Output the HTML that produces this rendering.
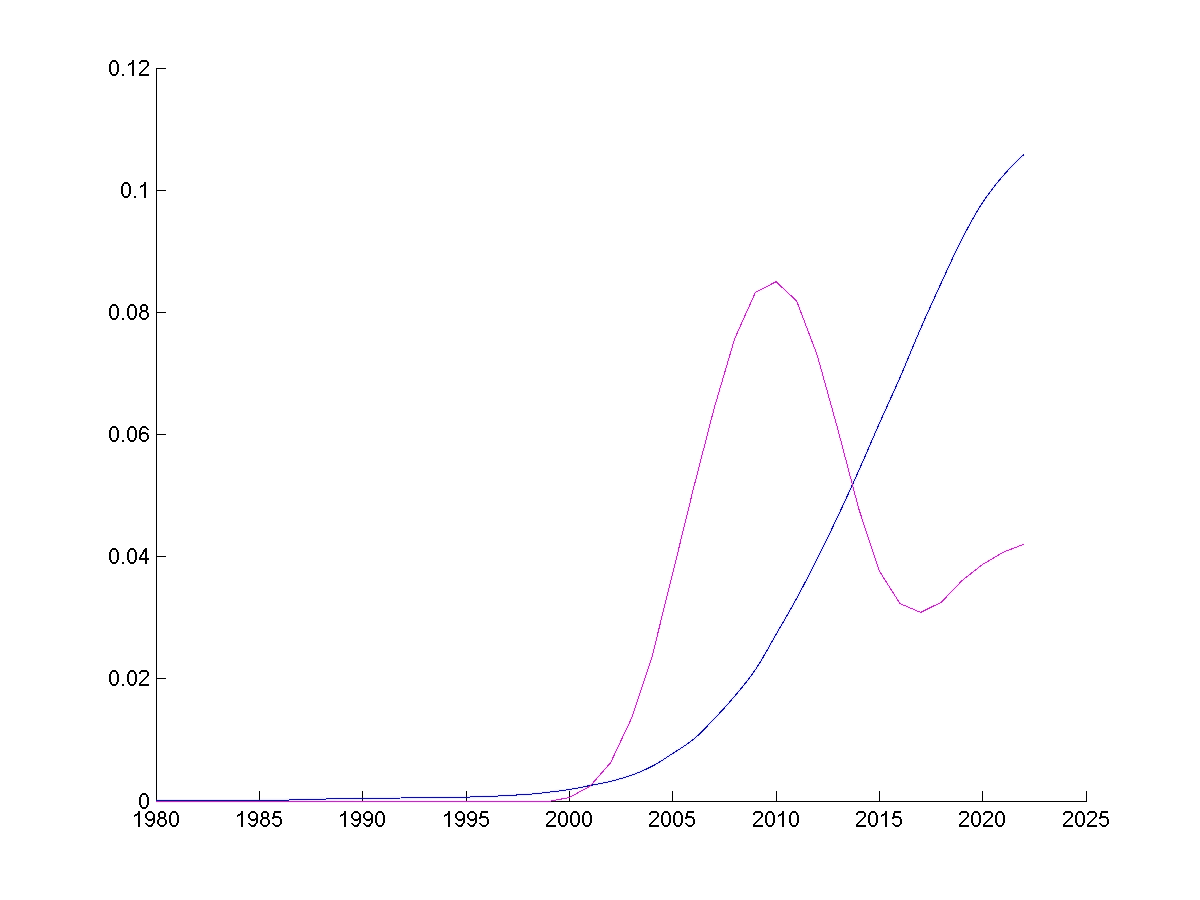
<!DOCTYPE html>
<html><head><meta charset="utf-8"><style>
html,body{margin:0;padding:0;background:#fff;}
#c{position:relative;width:1200px;height:900px;overflow:hidden;background:#fff;font-family:"Liberation Sans",sans-serif;}
svg{position:absolute;left:0;top:0;}
.tl{position:absolute;height:24px;line-height:24px;font-size:21px;color:transparent;white-space:nowrap;}
</style></head><body><div id="c">
<svg width="1200" height="900" viewBox="0 0 1200 900">
<path d="M156.5,68 V802 M156,801.5 H1087 M156,801.5 H166 M156,678.5 H166 M156,556.5 H166 M156,434.5 H166 M156,312.5 H166 M156,190.5 H166 M156,68.5 H166 M156.5,791 V801 M259.5,791 V801 M362.5,791 V801 M466.5,791 V801 M569.5,791 V801 M672.5,791 V801 M776.5,791 V801 M879.5,791 V801 M982.5,791 V801 M1086.5,791 V801" stroke="#000" stroke-width="1" fill="none" shape-rendering="crispEdges"/>
<path fill="#000" shape-rendering="crispEdges" d="M142,793h4v1h-4zM142,808h4v1h-4zM141,794h6v1h-6zM141,807h6v1h-6zM140,795h2v2h-2zM140,805h2v2h-2zM146,795h2v2h-2zM146,805h2v2h-2zM139,797h2v8h-2zM147,797h2v8h-2zM112,670h4v1h-4zM112,685h4v1h-4zM111,671h6v1h-6zM111,684h6v1h-6zM110,672h2v2h-2zM110,682h2v2h-2zM116,672h2v2h-2zM116,682h2v2h-2zM109,674h2v8h-2zM117,674h2v8h-2zM122,684h2v2h-2zM130,670h4v1h-4zM130,685h4v1h-4zM129,671h6v1h-6zM129,684h6v1h-6zM128,672h2v2h-2zM128,682h2v2h-2zM134,672h2v2h-2zM134,682h2v2h-2zM127,674h2v8h-2zM135,674h2v8h-2zM141,670h6v1h-6zM140,671h8v1h-8zM139,672h2v2h-2zM139,683h2v1h-2zM147,672h2v4h-2zM146,676h2v1h-2zM145,677h2v1h-2zM144,678h2v1h-2zM143,679h2v1h-2zM142,680h2v1h-2zM141,681h2v1h-2zM140,682h2v1h-2zM139,684h10v2h-10zM112,548h4v1h-4zM112,563h4v1h-4zM111,549h6v1h-6zM111,562h6v1h-6zM110,550h2v2h-2zM110,560h2v2h-2zM116,550h2v2h-2zM116,560h2v2h-2zM109,552h2v8h-2zM117,552h2v8h-2zM122,562h2v2h-2zM130,548h4v1h-4zM130,563h4v1h-4zM129,549h6v1h-6zM129,562h6v1h-6zM128,550h2v2h-2zM128,560h2v2h-2zM134,550h2v2h-2zM134,560h2v2h-2zM127,552h2v8h-2zM135,552h2v8h-2zM145,548h2v1h-2zM145,552h2v6h-2zM145,560h2v4h-2zM144,549h3v1h-3zM143,550h4v2h-4zM142,552h2v2h-2zM141,554h2v1h-2zM140,555h2v2h-2zM139,557h2v1h-2zM139,558h10v2h-10zM112,426h4v1h-4zM112,441h4v1h-4zM111,427h6v1h-6zM111,440h6v1h-6zM110,428h2v2h-2zM110,438h2v2h-2zM116,428h2v2h-2zM116,438h2v2h-2zM109,430h2v8h-2zM117,430h2v8h-2zM122,440h2v2h-2zM130,426h4v1h-4zM130,441h4v1h-4zM129,427h6v1h-6zM129,440h6v1h-6zM128,428h2v2h-2zM128,438h2v2h-2zM134,428h2v2h-2zM134,438h2v2h-2zM127,430h2v8h-2zM135,430h2v8h-2zM142,426h4v1h-4zM142,432h4v1h-4zM142,441h4v1h-4zM141,427h6v1h-6zM141,440h6v1h-6zM140,428h2v2h-2zM140,439h2v1h-2zM146,428h2v1h-2zM146,434h2v1h-2zM146,439h2v1h-2zM147,429h2v1h-2zM147,435h2v4h-2zM139,430h2v3h-2zM139,435h2v4h-2zM139,433h9v1h-9zM139,434h3v1h-3zM112,304h4v1h-4zM112,319h4v1h-4zM111,305h6v1h-6zM111,318h6v1h-6zM110,306h2v2h-2zM110,316h2v2h-2zM116,306h2v2h-2zM116,316h2v2h-2zM109,308h2v8h-2zM117,308h2v8h-2zM122,318h2v2h-2zM130,304h4v1h-4zM130,319h4v1h-4zM129,305h6v1h-6zM129,318h6v1h-6zM128,306h2v2h-2zM128,316h2v2h-2zM134,306h2v2h-2zM134,316h2v2h-2zM127,308h2v8h-2zM135,308h2v8h-2zM142,304h4v1h-4zM142,319h4v1h-4zM141,305h6v1h-6zM141,310h6v2h-6zM141,318h6v1h-6zM140,306h2v4h-2zM140,312h2v1h-2zM140,317h2v1h-2zM146,306h2v4h-2zM146,312h2v1h-2zM146,317h2v1h-2zM139,313h2v4h-2zM147,313h2v4h-2zM124,182h4v1h-4zM124,197h4v1h-4zM123,183h6v1h-6zM123,196h6v1h-6zM122,184h2v2h-2zM122,194h2v2h-2zM128,184h2v2h-2zM128,194h2v2h-2zM121,186h2v8h-2zM129,186h2v8h-2zM134,196h2v2h-2zM144,182h2v2h-2zM144,186h2v12h-2zM143,184h3v1h-3zM141,185h5v1h-5zM140,186h3v1h-3zM140,187h1v1h-1zM112,60h4v1h-4zM112,75h4v1h-4zM111,61h6v1h-6zM111,74h6v1h-6zM110,62h2v2h-2zM110,72h2v2h-2zM116,62h2v2h-2zM116,72h2v2h-2zM109,64h2v8h-2zM117,64h2v8h-2zM122,74h2v2h-2zM132,60h2v2h-2zM132,64h2v12h-2zM131,62h3v1h-3zM129,63h5v1h-5zM128,64h3v1h-3zM128,65h1v1h-1zM141,60h6v1h-6zM140,61h8v1h-8zM139,62h2v2h-2zM139,73h2v1h-2zM147,62h2v4h-2zM146,66h2v1h-2zM145,67h2v1h-2zM144,68h2v1h-2zM143,69h2v1h-2zM142,70h2v1h-2zM141,71h2v1h-2zM140,72h2v1h-2zM139,74h10v2h-10zM138,811h2v2h-2zM138,815h2v12h-2zM137,813h3v1h-3zM135,814h5v1h-5zM134,815h3v1h-3zM134,816h1v1h-1zM148,811h4v1h-4zM148,820h4v1h-4zM148,826h4v1h-4zM147,812h6v1h-6zM147,825h6v1h-6zM146,813h2v1h-2zM146,818h2v1h-2zM146,824h2v1h-2zM152,813h2v1h-2zM152,823h2v1h-2zM145,814h2v4h-2zM145,823h2v1h-2zM153,814h2v4h-2zM153,820h2v3h-2zM152,818h3v1h-3zM147,819h8v1h-8zM151,824h2v1h-2zM160,811h4v1h-4zM160,826h4v1h-4zM159,812h6v1h-6zM159,817h6v2h-6zM159,825h6v1h-6zM158,813h2v4h-2zM158,819h2v1h-2zM158,824h2v1h-2zM164,813h2v4h-2zM164,819h2v1h-2zM164,824h2v1h-2zM157,820h2v4h-2zM165,820h2v4h-2zM172,811h4v1h-4zM172,826h4v1h-4zM171,812h6v1h-6zM171,825h6v1h-6zM170,813h2v2h-2zM170,823h2v2h-2zM176,813h2v2h-2zM176,823h2v2h-2zM169,815h2v8h-2zM177,815h2v8h-2zM241,811h2v2h-2zM241,815h2v12h-2zM240,813h3v1h-3zM238,814h5v1h-5zM237,815h3v1h-3zM237,816h1v1h-1zM251,811h4v1h-4zM251,820h4v1h-4zM251,826h4v1h-4zM250,812h6v1h-6zM250,825h6v1h-6zM249,813h2v1h-2zM249,818h2v1h-2zM249,824h2v1h-2zM255,813h2v1h-2zM255,823h2v1h-2zM248,814h2v4h-2zM248,823h2v1h-2zM256,814h2v4h-2zM256,820h2v3h-2zM255,818h3v1h-3zM250,819h8v1h-8zM254,824h2v1h-2zM263,811h4v1h-4zM263,826h4v1h-4zM262,812h6v1h-6zM262,817h6v2h-6zM262,825h6v1h-6zM261,813h2v4h-2zM261,819h2v1h-2zM261,824h2v1h-2zM267,813h2v4h-2zM267,819h2v1h-2zM267,824h2v1h-2zM260,820h2v4h-2zM268,820h2v4h-2zM274,811h7v2h-7zM273,813h2v3h-2zM273,824h2v1h-2zM273,816h6v1h-6zM272,817h9v1h-9zM272,818h2v1h-2zM272,823h2v1h-2zM279,818h2v1h-2zM279,824h2v1h-2zM280,819h2v5h-2zM274,825h6v1h-6zM275,826h4v1h-4zM344,811h2v2h-2zM344,815h2v12h-2zM343,813h3v1h-3zM341,814h5v1h-5zM340,815h3v1h-3zM340,816h1v1h-1zM354,811h4v1h-4zM354,820h4v1h-4zM354,826h4v1h-4zM353,812h6v1h-6zM353,825h6v1h-6zM352,813h2v1h-2zM352,818h2v1h-2zM352,824h2v1h-2zM358,813h2v1h-2zM358,823h2v1h-2zM351,814h2v4h-2zM351,823h2v1h-2zM359,814h2v4h-2zM359,820h2v3h-2zM358,818h3v1h-3zM353,819h8v1h-8zM357,824h2v1h-2zM366,811h4v1h-4zM366,820h4v1h-4zM366,826h4v1h-4zM365,812h6v1h-6zM365,825h6v1h-6zM364,813h2v1h-2zM364,818h2v1h-2zM364,824h2v1h-2zM370,813h2v1h-2zM370,823h2v1h-2zM363,814h2v4h-2zM363,823h2v1h-2zM371,814h2v4h-2zM371,820h2v3h-2zM370,818h3v1h-3zM365,819h8v1h-8zM369,824h2v1h-2zM378,811h4v1h-4zM378,826h4v1h-4zM377,812h6v1h-6zM377,825h6v1h-6zM376,813h2v2h-2zM376,823h2v2h-2zM382,813h2v2h-2zM382,823h2v2h-2zM375,815h2v8h-2zM383,815h2v8h-2zM448,811h2v2h-2zM448,815h2v12h-2zM447,813h3v1h-3zM445,814h5v1h-5zM444,815h3v1h-3zM444,816h1v1h-1zM458,811h4v1h-4zM458,820h4v1h-4zM458,826h4v1h-4zM457,812h6v1h-6zM457,825h6v1h-6zM456,813h2v1h-2zM456,818h2v1h-2zM456,824h2v1h-2zM462,813h2v1h-2zM462,823h2v1h-2zM455,814h2v4h-2zM455,823h2v1h-2zM463,814h2v4h-2zM463,820h2v3h-2zM462,818h3v1h-3zM457,819h8v1h-8zM461,824h2v1h-2zM470,811h4v1h-4zM470,820h4v1h-4zM470,826h4v1h-4zM469,812h6v1h-6zM469,825h6v1h-6zM468,813h2v1h-2zM468,818h2v1h-2zM468,824h2v1h-2zM474,813h2v1h-2zM474,823h2v1h-2zM467,814h2v4h-2zM467,823h2v1h-2zM475,814h2v4h-2zM475,820h2v3h-2zM474,818h3v1h-3zM469,819h8v1h-8zM473,824h2v1h-2zM481,811h7v2h-7zM480,813h2v3h-2zM480,824h2v1h-2zM480,816h6v1h-6zM479,817h9v1h-9zM479,818h2v1h-2zM479,823h2v1h-2zM486,818h2v1h-2zM486,824h2v1h-2zM487,819h2v5h-2zM481,825h6v1h-6zM482,826h4v1h-4zM548,811h6v1h-6zM547,812h8v1h-8zM546,813h2v2h-2zM546,824h2v1h-2zM554,813h2v4h-2zM553,817h2v1h-2zM552,818h2v1h-2zM551,819h2v1h-2zM550,820h2v1h-2zM549,821h2v1h-2zM548,822h2v1h-2zM547,823h2v1h-2zM546,825h10v2h-10zM561,811h4v1h-4zM561,826h4v1h-4zM560,812h6v1h-6zM560,825h6v1h-6zM559,813h2v2h-2zM559,823h2v2h-2zM565,813h2v2h-2zM565,823h2v2h-2zM558,815h2v8h-2zM566,815h2v8h-2zM573,811h4v1h-4zM573,826h4v1h-4zM572,812h6v1h-6zM572,825h6v1h-6zM571,813h2v2h-2zM571,823h2v2h-2zM577,813h2v2h-2zM577,823h2v2h-2zM570,815h2v8h-2zM578,815h2v8h-2zM585,811h4v1h-4zM585,826h4v1h-4zM584,812h6v1h-6zM584,825h6v1h-6zM583,813h2v2h-2zM583,823h2v2h-2zM589,813h2v2h-2zM589,823h2v2h-2zM582,815h2v8h-2zM590,815h2v8h-2zM651,811h6v1h-6zM650,812h8v1h-8zM649,813h2v2h-2zM649,824h2v1h-2zM657,813h2v4h-2zM656,817h2v1h-2zM655,818h2v1h-2zM654,819h2v1h-2zM653,820h2v1h-2zM652,821h2v1h-2zM651,822h2v1h-2zM650,823h2v1h-2zM649,825h10v2h-10zM664,811h4v1h-4zM664,826h4v1h-4zM663,812h6v1h-6zM663,825h6v1h-6zM662,813h2v2h-2zM662,823h2v2h-2zM668,813h2v2h-2zM668,823h2v2h-2zM661,815h2v8h-2zM669,815h2v8h-2zM676,811h4v1h-4zM676,826h4v1h-4zM675,812h6v1h-6zM675,825h6v1h-6zM674,813h2v2h-2zM674,823h2v2h-2zM680,813h2v2h-2zM680,823h2v2h-2zM673,815h2v8h-2zM681,815h2v8h-2zM687,811h7v2h-7zM686,813h2v3h-2zM686,824h2v1h-2zM686,816h6v1h-6zM685,817h9v1h-9zM685,818h2v1h-2zM685,823h2v1h-2zM692,818h2v1h-2zM692,824h2v1h-2zM693,819h2v5h-2zM687,825h6v1h-6zM688,826h4v1h-4zM755,811h6v1h-6zM754,812h8v1h-8zM753,813h2v2h-2zM753,824h2v1h-2zM761,813h2v4h-2zM760,817h2v1h-2zM759,818h2v1h-2zM758,819h2v1h-2zM757,820h2v1h-2zM756,821h2v1h-2zM755,822h2v1h-2zM754,823h2v1h-2zM753,825h10v2h-10zM768,811h4v1h-4zM768,826h4v1h-4zM767,812h6v1h-6zM767,825h6v1h-6zM766,813h2v2h-2zM766,823h2v2h-2zM772,813h2v2h-2zM772,823h2v2h-2zM765,815h2v8h-2zM773,815h2v8h-2zM782,811h2v2h-2zM782,815h2v12h-2zM781,813h3v1h-3zM779,814h5v1h-5zM778,815h3v1h-3zM778,816h1v1h-1zM792,811h4v1h-4zM792,826h4v1h-4zM791,812h6v1h-6zM791,825h6v1h-6zM790,813h2v2h-2zM790,823h2v2h-2zM796,813h2v2h-2zM796,823h2v2h-2zM789,815h2v8h-2zM797,815h2v8h-2zM858,811h6v1h-6zM857,812h8v1h-8zM856,813h2v2h-2zM856,824h2v1h-2zM864,813h2v4h-2zM863,817h2v1h-2zM862,818h2v1h-2zM861,819h2v1h-2zM860,820h2v1h-2zM859,821h2v1h-2zM858,822h2v1h-2zM857,823h2v1h-2zM856,825h10v2h-10zM871,811h4v1h-4zM871,826h4v1h-4zM870,812h6v1h-6zM870,825h6v1h-6zM869,813h2v2h-2zM869,823h2v2h-2zM875,813h2v2h-2zM875,823h2v2h-2zM868,815h2v8h-2zM876,815h2v8h-2zM885,811h2v2h-2zM885,815h2v12h-2zM884,813h3v1h-3zM882,814h5v1h-5zM881,815h3v1h-3zM881,816h1v1h-1zM894,811h7v2h-7zM893,813h2v3h-2zM893,824h2v1h-2zM893,816h6v1h-6zM892,817h9v1h-9zM892,818h2v1h-2zM892,823h2v1h-2zM899,818h2v1h-2zM899,824h2v1h-2zM900,819h2v5h-2zM894,825h6v1h-6zM895,826h4v1h-4zM961,811h6v1h-6zM960,812h8v1h-8zM959,813h2v2h-2zM959,824h2v1h-2zM967,813h2v4h-2zM966,817h2v1h-2zM965,818h2v1h-2zM964,819h2v1h-2zM963,820h2v1h-2zM962,821h2v1h-2zM961,822h2v1h-2zM960,823h2v1h-2zM959,825h10v2h-10zM974,811h4v1h-4zM974,826h4v1h-4zM973,812h6v1h-6zM973,825h6v1h-6zM972,813h2v2h-2zM972,823h2v2h-2zM978,813h2v2h-2zM978,823h2v2h-2zM971,815h2v8h-2zM979,815h2v8h-2zM985,811h6v1h-6zM984,812h8v1h-8zM983,813h2v2h-2zM983,824h2v1h-2zM991,813h2v4h-2zM990,817h2v1h-2zM989,818h2v1h-2zM988,819h2v1h-2zM987,820h2v1h-2zM986,821h2v1h-2zM985,822h2v1h-2zM984,823h2v1h-2zM983,825h10v2h-10zM998,811h4v1h-4zM998,826h4v1h-4zM997,812h6v1h-6zM997,825h6v1h-6zM996,813h2v2h-2zM996,823h2v2h-2zM1002,813h2v2h-2zM1002,823h2v2h-2zM995,815h2v8h-2zM1003,815h2v8h-2zM1065,811h6v1h-6zM1064,812h8v1h-8zM1063,813h2v2h-2zM1063,824h2v1h-2zM1071,813h2v4h-2zM1070,817h2v1h-2zM1069,818h2v1h-2zM1068,819h2v1h-2zM1067,820h2v1h-2zM1066,821h2v1h-2zM1065,822h2v1h-2zM1064,823h2v1h-2zM1063,825h10v2h-10zM1078,811h4v1h-4zM1078,826h4v1h-4zM1077,812h6v1h-6zM1077,825h6v1h-6zM1076,813h2v2h-2zM1076,823h2v2h-2zM1082,813h2v2h-2zM1082,823h2v2h-2zM1075,815h2v8h-2zM1083,815h2v8h-2zM1089,811h6v1h-6zM1088,812h8v1h-8zM1087,813h2v2h-2zM1087,824h2v1h-2zM1095,813h2v4h-2zM1094,817h2v1h-2zM1093,818h2v1h-2zM1092,819h2v1h-2zM1091,820h2v1h-2zM1090,821h2v1h-2zM1089,822h2v1h-2zM1088,823h2v1h-2zM1087,825h10v2h-10zM1101,811h7v2h-7zM1100,813h2v3h-2zM1100,824h2v1h-2zM1100,816h6v1h-6zM1099,817h9v1h-9zM1099,818h2v1h-2zM1099,823h2v1h-2zM1106,818h2v1h-2zM1106,824h2v1h-2zM1107,819h2v5h-2zM1101,825h6v1h-6zM1102,826h4v1h-4z"/>
<polyline points="156.00,800.50 158.58,800.50 161.17,800.50 163.75,800.50 166.33,800.50 168.92,800.50 171.50,800.50 174.08,800.50 176.67,800.50 179.25,800.50 181.83,800.49 184.42,800.49 187.00,800.49 189.58,800.49 192.17,800.49 194.75,800.49 197.33,800.48 199.92,800.48 202.50,800.48 205.08,800.48 207.67,800.47 210.25,800.47 212.83,800.47 215.42,800.47 218.00,800.46 220.58,800.46 223.17,800.45 225.75,800.45 228.33,800.44 230.92,800.44 233.50,800.44 236.08,800.43 238.67,800.42 241.25,800.42 243.83,800.41 246.42,800.41 249.00,800.40 251.58,800.39 254.17,800.39 256.75,800.38 259.33,800.37 261.92,800.36 264.50,800.36 267.08,800.35 269.67,800.34 272.25,800.33 274.83,800.32 277.42,800.31 280.00,800.30 282.58,800.26 285.17,800.19 287.75,800.08 290.33,799.95 292.92,799.82 295.50,799.69 298.08,799.58 300.67,799.50 303.25,799.44 305.83,799.38 308.42,799.32 311.00,799.27 313.58,799.22 316.17,799.17 318.75,799.13 321.33,799.08 323.92,799.04 326.50,799.00 329.08,798.96 331.67,798.92 334.25,798.88 336.83,798.85 339.42,798.81 342.00,798.78 344.58,798.74 347.17,798.71 349.75,798.68 352.33,798.64 354.92,798.61 357.50,798.57 360.08,798.54 362.67,798.50 365.25,798.46 367.83,798.43 370.42,798.39 373.00,798.36 375.58,798.32 378.17,798.29 380.75,798.26 383.33,798.22 385.92,798.19 388.50,798.16 391.08,798.13 393.67,798.10 396.25,798.06 398.83,798.03 401.42,798.00 404.00,797.97 406.58,797.94 409.17,797.90 411.75,797.87 414.33,797.84 416.92,797.80 419.50,797.77 422.08,797.74 424.67,797.70 427.25,797.67 429.83,797.63 432.42,797.60 435.00,797.57 437.58,797.53 440.17,797.50 442.75,797.47 445.33,797.43 447.92,797.40 450.50,797.36 453.08,797.32 455.67,797.28 458.25,797.24 460.83,797.20 463.42,797.15 466.00,797.10 468.58,797.04 471.17,796.98 473.75,796.92 476.33,796.84 478.92,796.76 481.50,796.68 484.08,796.59 486.67,796.50 489.25,796.40 491.83,796.29 494.42,796.17 497.00,796.04 499.58,795.91 502.17,795.77 504.75,795.64 507.33,795.50 509.92,795.36 512.50,795.23 515.08,795.09 517.67,794.95 520.25,794.81 522.83,794.65 525.42,794.48 528.00,794.30 530.58,794.10 533.17,793.87 535.75,793.62 538.33,793.35 540.92,793.08 543.50,792.79 546.08,792.50 548.67,792.20 551.25,791.90 553.83,791.60 556.42,791.28 559.00,790.96 561.58,790.62 564.17,790.26 566.75,789.89 569.33,789.50 571.92,789.08 574.50,788.61 577.08,788.12 579.67,787.61 582.25,787.08 584.83,786.55 587.42,786.02 590.00,785.50 592.58,785.00 595.17,784.50 597.75,784.01 600.33,783.51 602.92,783.00 605.50,782.46 608.08,781.90 610.67,781.30 613.25,780.66 615.83,779.99 618.42,779.28 621.00,778.53 623.58,777.75 626.17,776.94 628.75,776.09 631.33,775.20 633.92,774.27 636.50,773.28 639.08,772.25 641.67,771.16 644.25,770.02 646.83,768.83 649.42,767.59 652.00,766.30 654.58,764.93 657.17,763.45 659.75,761.89 662.33,760.26 664.92,758.59 667.50,756.89 670.08,755.19 672.67,753.50 675.25,751.84 677.83,750.19 680.42,748.54 683.00,746.86 685.58,745.12 688.17,743.32 690.75,741.42 693.33,739.40 695.92,737.22 698.50,734.88 701.08,732.40 703.67,729.81 706.25,727.14 708.83,724.43 711.42,721.71 714.00,719.00 716.58,716.29 719.17,713.56 721.75,710.79 724.33,707.97 726.92,705.11 729.50,702.20 732.08,699.23 734.67,696.20 737.25,693.13 739.83,690.03 742.42,686.88 745.00,683.67 747.58,680.36 750.17,676.94 752.75,673.40 755.33,669.70 757.92,665.78 760.50,661.62 763.08,657.27 765.67,652.78 768.25,648.21 770.83,643.60 773.42,639.02 776.00,634.50 778.58,630.05 781.17,625.60 783.75,621.15 786.33,616.68 788.92,612.17 791.50,607.61 794.08,603.00 796.67,598.30 799.25,593.52 801.83,588.68 804.42,583.77 807.00,578.80 809.58,573.78 812.17,568.72 814.75,563.63 817.33,558.50 819.92,553.34 822.50,548.13 825.08,542.88 827.67,537.59 830.25,532.25 832.83,526.87 835.42,521.46 838.00,516.00 840.58,510.50 843.17,504.94 845.75,499.34 848.33,493.70 850.92,488.02 853.50,482.31 856.08,476.57 858.67,470.80 861.25,464.98 863.83,459.10 866.42,453.16 869.00,447.20 871.58,441.24 874.17,435.28 876.75,429.36 879.33,423.50 881.92,417.71 884.50,411.98 887.08,406.28 889.67,400.60 892.25,394.91 894.83,389.17 897.42,383.38 900.00,377.50 902.58,371.50 905.17,365.39 907.75,359.21 910.33,352.99 912.92,346.77 915.50,340.59 918.08,334.49 920.67,328.50 923.25,322.61 925.83,316.78 928.42,311.00 931.00,305.27 933.58,299.58 936.17,293.93 938.75,288.30 941.33,282.70 943.92,277.09 946.50,271.45 949.08,265.82 951.67,260.23 954.25,254.72 956.83,249.33 959.42,244.07 962.00,239.00 964.58,234.05 967.17,229.16 969.75,224.35 972.33,219.66 974.92,215.10 977.50,210.70 980.08,206.50 982.67,202.50 985.25,198.69 987.83,195.02 990.42,191.49 993.00,188.07 995.58,184.78 998.17,181.59 1000.75,178.50 1003.33,175.50 1005.92,172.58 1008.50,169.74 1011.08,166.98 1013.67,164.30 1016.25,161.70 1018.83,159.21 1021.42,156.80 1024.00,154.50" fill="none" stroke="#6060ff" stroke-opacity="0.12" stroke-width="3" stroke-linejoin="round"/>
<polyline points="156.00,801.50 548.67,801.50 569.33,797.50 590.00,786.20 610.67,762.60 631.33,718.70 652.00,656.80 672.67,573.50 693.33,489.00 714.00,408.80 734.67,338.70 755.33,292.50 776.00,281.70 796.67,301.00 817.33,355.50 838.00,430.00 858.67,508.50 879.33,571.00 900.00,603.60 920.67,612.40 941.33,602.20 962.00,580.60 982.67,564.40 1003.33,552.20 1024.00,544.20" fill="none" stroke="#ff40ff" stroke-opacity="0.12" stroke-width="3" stroke-linejoin="round"/>
<polyline points="156.00,800.50 158.58,800.50 161.17,800.50 163.75,800.50 166.33,800.50 168.92,800.50 171.50,800.50 174.08,800.50 176.67,800.50 179.25,800.50 181.83,800.49 184.42,800.49 187.00,800.49 189.58,800.49 192.17,800.49 194.75,800.49 197.33,800.48 199.92,800.48 202.50,800.48 205.08,800.48 207.67,800.47 210.25,800.47 212.83,800.47 215.42,800.47 218.00,800.46 220.58,800.46 223.17,800.45 225.75,800.45 228.33,800.44 230.92,800.44 233.50,800.44 236.08,800.43 238.67,800.42 241.25,800.42 243.83,800.41 246.42,800.41 249.00,800.40 251.58,800.39 254.17,800.39 256.75,800.38 259.33,800.37 261.92,800.36 264.50,800.36 267.08,800.35 269.67,800.34 272.25,800.33 274.83,800.32 277.42,800.31 280.00,800.30 282.58,800.26 285.17,800.19 287.75,800.08 290.33,799.95 292.92,799.82 295.50,799.69 298.08,799.58 300.67,799.50 303.25,799.44 305.83,799.38 308.42,799.32 311.00,799.27 313.58,799.22 316.17,799.17 318.75,799.13 321.33,799.08 323.92,799.04 326.50,799.00 329.08,798.96 331.67,798.92 334.25,798.88 336.83,798.85 339.42,798.81 342.00,798.78 344.58,798.74 347.17,798.71 349.75,798.68 352.33,798.64 354.92,798.61 357.50,798.57 360.08,798.54 362.67,798.50 365.25,798.46 367.83,798.43 370.42,798.39 373.00,798.36 375.58,798.32 378.17,798.29 380.75,798.26 383.33,798.22 385.92,798.19 388.50,798.16 391.08,798.13 393.67,798.10 396.25,798.06 398.83,798.03 401.42,798.00 404.00,797.97 406.58,797.94 409.17,797.90 411.75,797.87 414.33,797.84 416.92,797.80 419.50,797.77 422.08,797.74 424.67,797.70 427.25,797.67 429.83,797.63 432.42,797.60 435.00,797.57 437.58,797.53 440.17,797.50 442.75,797.47 445.33,797.43 447.92,797.40 450.50,797.36 453.08,797.32 455.67,797.28 458.25,797.24 460.83,797.20 463.42,797.15 466.00,797.10 468.58,797.04 471.17,796.98 473.75,796.92 476.33,796.84 478.92,796.76 481.50,796.68 484.08,796.59 486.67,796.50 489.25,796.40 491.83,796.29 494.42,796.17 497.00,796.04 499.58,795.91 502.17,795.77 504.75,795.64 507.33,795.50 509.92,795.36 512.50,795.23 515.08,795.09 517.67,794.95 520.25,794.81 522.83,794.65 525.42,794.48 528.00,794.30 530.58,794.10 533.17,793.87 535.75,793.62 538.33,793.35 540.92,793.08 543.50,792.79 546.08,792.50 548.67,792.20 551.25,791.90 553.83,791.60 556.42,791.28 559.00,790.96 561.58,790.62 564.17,790.26 566.75,789.89 569.33,789.50 571.92,789.08 574.50,788.61 577.08,788.12 579.67,787.61 582.25,787.08 584.83,786.55 587.42,786.02 590.00,785.50 592.58,785.00 595.17,784.50 597.75,784.01 600.33,783.51 602.92,783.00 605.50,782.46 608.08,781.90 610.67,781.30 613.25,780.66 615.83,779.99 618.42,779.28 621.00,778.53 623.58,777.75 626.17,776.94 628.75,776.09 631.33,775.20 633.92,774.27 636.50,773.28 639.08,772.25 641.67,771.16 644.25,770.02 646.83,768.83 649.42,767.59 652.00,766.30 654.58,764.93 657.17,763.45 659.75,761.89 662.33,760.26 664.92,758.59 667.50,756.89 670.08,755.19 672.67,753.50 675.25,751.84 677.83,750.19 680.42,748.54 683.00,746.86 685.58,745.12 688.17,743.32 690.75,741.42 693.33,739.40 695.92,737.22 698.50,734.88 701.08,732.40 703.67,729.81 706.25,727.14 708.83,724.43 711.42,721.71 714.00,719.00 716.58,716.29 719.17,713.56 721.75,710.79 724.33,707.97 726.92,705.11 729.50,702.20 732.08,699.23 734.67,696.20 737.25,693.13 739.83,690.03 742.42,686.88 745.00,683.67 747.58,680.36 750.17,676.94 752.75,673.40 755.33,669.70 757.92,665.78 760.50,661.62 763.08,657.27 765.67,652.78 768.25,648.21 770.83,643.60 773.42,639.02 776.00,634.50 778.58,630.05 781.17,625.60 783.75,621.15 786.33,616.68 788.92,612.17 791.50,607.61 794.08,603.00 796.67,598.30 799.25,593.52 801.83,588.68 804.42,583.77 807.00,578.80 809.58,573.78 812.17,568.72 814.75,563.63 817.33,558.50 819.92,553.34 822.50,548.13 825.08,542.88 827.67,537.59 830.25,532.25 832.83,526.87 835.42,521.46 838.00,516.00 840.58,510.50 843.17,504.94 845.75,499.34 848.33,493.70 850.92,488.02 853.50,482.31 856.08,476.57 858.67,470.80 861.25,464.98 863.83,459.10 866.42,453.16 869.00,447.20 871.58,441.24 874.17,435.28 876.75,429.36 879.33,423.50 881.92,417.71 884.50,411.98 887.08,406.28 889.67,400.60 892.25,394.91 894.83,389.17 897.42,383.38 900.00,377.50 902.58,371.50 905.17,365.39 907.75,359.21 910.33,352.99 912.92,346.77 915.50,340.59 918.08,334.49 920.67,328.50 923.25,322.61 925.83,316.78 928.42,311.00 931.00,305.27 933.58,299.58 936.17,293.93 938.75,288.30 941.33,282.70 943.92,277.09 946.50,271.45 949.08,265.82 951.67,260.23 954.25,254.72 956.83,249.33 959.42,244.07 962.00,239.00 964.58,234.05 967.17,229.16 969.75,224.35 972.33,219.66 974.92,215.10 977.50,210.70 980.08,206.50 982.67,202.50 985.25,198.69 987.83,195.02 990.42,191.49 993.00,188.07 995.58,184.78 998.17,181.59 1000.75,178.50 1003.33,175.50 1005.92,172.58 1008.50,169.74 1011.08,166.98 1013.67,164.30 1016.25,161.70 1018.83,159.21 1021.42,156.80 1024.00,154.50" fill="none" stroke="#0e0f8e" stroke-width="1" shape-rendering="crispEdges"/>
<polyline points="156.00,801.50 548.67,801.50 569.33,797.50 590.00,786.20 610.67,762.60 631.33,718.70 652.00,656.80 672.67,573.50 693.33,489.00 714.00,408.80 734.67,338.70 755.33,292.50 776.00,281.70 796.67,301.00 817.33,355.50 838.00,430.00 858.67,508.50 879.33,571.00 900.00,603.60 920.67,612.40 941.33,602.20 962.00,580.60 982.67,564.40 1003.33,552.20 1024.00,544.20" fill="none" stroke="#b434b3" stroke-width="1" shape-rendering="crispEdges"/>
</svg>
<div class="tl" style="right:1049px;top:789px;text-align:right">0</div>
<div class="tl" style="right:1049px;top:666px;text-align:right">0.02</div>
<div class="tl" style="right:1049px;top:544px;text-align:right">0.04</div>
<div class="tl" style="right:1049px;top:422px;text-align:right">0.06</div>
<div class="tl" style="right:1049px;top:300px;text-align:right">0.08</div>
<div class="tl" style="right:1049px;top:178px;text-align:right">0.1</div>
<div class="tl" style="right:1049px;top:56px;text-align:right">0.12</div>
<div class="tl" style="left:132px;top:807px;width:48px;text-align:center">1980</div>
<div class="tl" style="left:235px;top:807px;width:48px;text-align:center">1985</div>
<div class="tl" style="left:338px;top:807px;width:48px;text-align:center">1990</div>
<div class="tl" style="left:442px;top:807px;width:48px;text-align:center">1995</div>
<div class="tl" style="left:545px;top:807px;width:48px;text-align:center">2000</div>
<div class="tl" style="left:648px;top:807px;width:48px;text-align:center">2005</div>
<div class="tl" style="left:752px;top:807px;width:48px;text-align:center">2010</div>
<div class="tl" style="left:855px;top:807px;width:48px;text-align:center">2015</div>
<div class="tl" style="left:958px;top:807px;width:48px;text-align:center">2020</div>
<div class="tl" style="left:1062px;top:807px;width:48px;text-align:center">2025</div>
</div></body></html>
